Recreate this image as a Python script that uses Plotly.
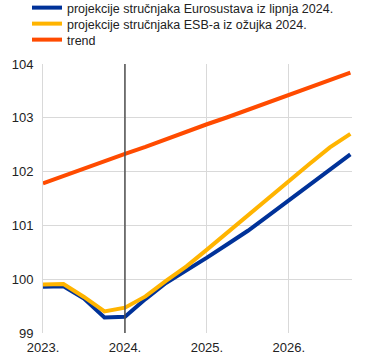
import plotly.graph_objects as go

quarters = [2023.0, 2023.25, 2023.5, 2023.75, 2024.0, 2024.25, 2024.5, 2024.75,
            2025.0, 2025.25, 2025.5, 2025.75, 2026.0, 2026.25, 2026.5, 2026.75]

eurosystem_jun2024 = [99.86, 99.87, 99.64, 99.29, 99.30, 99.63, 99.93, 100.16,
                      100.40, 100.65, 100.90, 101.18, 101.47, 101.75, 102.04, 102.32]
ecb_mar2024 = [99.90, 99.91, 99.67, 99.40, 99.47, 99.68, 99.97, 100.24,
               100.55, 100.87, 101.19, 101.52, 101.84, 102.14, 102.45, 102.70]
trend = [101.78, 101.92, 102.06, 102.20, 102.33, 102.46, 102.60, 102.75,
         102.88, 103.01, 103.15, 103.28, 103.42, 103.57, 103.70, 103.84]

series_names = ["projekcije stručnjaka Eurosustava iz lipnja 2024.",
                "projekcije stručnjaka ESB-a iz ožujka 2024.",
                "trend"]
tick_years = [2023, 2024, 2025, 2026]
tick_labels = ["2023.", "2024.", "2025.", "2026."]
y_ticks = [99, 100, 101, 102, 103, 104]
marker_year = 2024

fig = go.Figure()
fig.add_trace(go.Scatter(x=quarters, y=eurosystem_jun2024, mode="lines",
                         name=series_names[0], legend="legend",
                         line=dict(color="#003299", width=4)))
fig.add_trace(go.Scatter(x=quarters, y=ecb_mar2024, mode="lines",
                         name=series_names[1], legend="legend2",
                         line=dict(color="#FFB400", width=4)))
fig.add_trace(go.Scatter(x=quarters, y=trend, mode="lines",
                         name=series_names[2], legend="legend3",
                         line=dict(color="#FF4B00", width=4)))

fig.add_shape(type="line", xref="x", yref="paper", x0=marker_year, x1=marker_year,
              y0=0, y1=1, line=dict(color="#505050", width=1.5))

H = 361.0
def leg(ypix):
    return dict(xref="container", yref="container", x=27 / 384.0, y=1 - ypix / H,
                xanchor="left", yanchor="middle", bgcolor="rgba(0,0,0,0)",
                font=dict(size=12.5, color="#222222"), itemwidth=30)

fig.update_layout(
    width=384, height=361,
    margin=dict(l=43, r=32, t=64, b=28, autoexpand=False),
    paper_bgcolor="white", plot_bgcolor="white",
    font=dict(family="Liberation Sans, Arial, sans-serif", size=13, color="#222222"),
    showlegend=True,
    legend=leg(8), legend2=leg(24), legend3=leg(40),
    xaxis=dict(range=[2023, 2026.77], tickvals=tick_years, ticktext=tick_labels,
               showgrid=True, gridcolor="#d9d9d9", gridwidth=1,
               zeroline=False, showline=False, ticks="", tickfont=dict(size=13),
               ticklabelstandoff=5),
    yaxis=dict(range=[99, 104], tickvals=y_ticks, showgrid=True,
               gridcolor="#d9d9d9", gridwidth=1, zeroline=False,
               showline=True, linecolor="#d9d9d9", linewidth=1,
               ticks="", tickfont=dict(size=13), ticklabelstandoff=6),
)

fig.write_html("out.html", config={"displayModeBar": False},
               post_script="document.body.style.margin='0';")
